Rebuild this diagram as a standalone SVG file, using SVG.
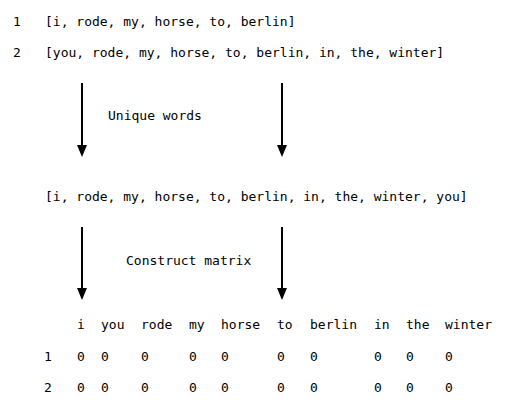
<svg xmlns="http://www.w3.org/2000/svg" width="532" height="418" viewBox="0 0 532 418">
<style>
text{font-family:"DejaVu Sans Mono","Liberation Mono",monospace;font-size:13px;fill:#000}
.c line{stroke:#000;stroke-width:2}
</style>
<defs>
<marker id="ah" markerWidth="10" markerHeight="12" refX="5" refY="12" orient="auto-start-reverse" markerUnits="userSpaceOnUse" viewBox="0 0 10 12"><path d="M0,0 L10,0 L5,12 Z" fill="#000"/></marker>
</defs>
<rect width="532" height="418" fill="#fff"/>
<g id="docs">
<text x="13" y="26">1</text>
<text x="45" y="26">[i, rode, my, horse, to, berlin]</text>
<text x="13" y="57">2</text>
<text x="45" y="57">[you, rode, my, horse, to, berlin, in, the, winter]</text>
</g>
<g id="step1">
<text x="108" y="120">Unique words</text>
</g>
<g id="vocab">
<text x="45" y="201">[i, rode, my, horse, to, berlin, in, the, winter, you]</text>
</g>
<g id="step2">
<text x="126" y="265">Construct matrix</text>
</g>
<g class="c" id="connectors">
<line x1="82" y1="83" x2="82" y2="145"/>
<path d="M77,145 L87,145 L82,157 Z"/>
<line x1="282" y1="83" x2="282" y2="145"/>
<path d="M277,145 L287,145 L282,157 Z"/>
<line x1="82" y1="227" x2="82" y2="288"/>
<path d="M77,288 L87,288 L82,300 Z"/>
<line x1="282" y1="227" x2="282" y2="288"/>
<path d="M277,288 L287,288 L282,300 Z"/>
</g>
<g id="matrix">
<text x="77" y="329">i</text>
<text x="101" y="329">you</text>
<text x="141" y="329">rode</text>
<text x="189" y="329">my</text>
<text x="221" y="329">horse</text>
<text x="277" y="329">to</text>
<text x="310" y="329">berlin</text>
<text x="374" y="329">in</text>
<text x="406" y="329">the</text>
<text x="445" y="329">winter</text>
<text x="44" y="361">1</text>
<text x="77" y="361">0</text><text x="101" y="361">0</text><text x="141" y="361">0</text><text x="189" y="361">0</text><text x="221" y="361">0</text><text x="277" y="361">0</text><text x="310" y="361">0</text><text x="374" y="361">0</text><text x="406" y="361">0</text><text x="445" y="361">0</text>
<text x="44" y="392">2</text>
<text x="77" y="392">0</text><text x="101" y="392">0</text><text x="141" y="392">0</text><text x="189" y="392">0</text><text x="221" y="392">0</text><text x="277" y="392">0</text><text x="310" y="392">0</text><text x="374" y="392">0</text><text x="406" y="392">0</text><text x="445" y="392">0</text>
</g>
</svg>
